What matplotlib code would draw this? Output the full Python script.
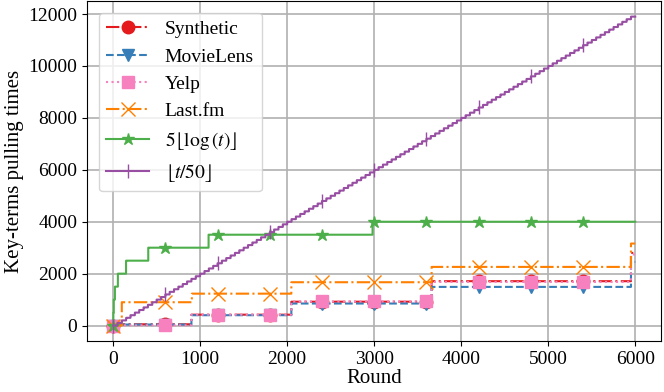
import numpy as np
import matplotlib
matplotlib.use("Agg")
import matplotlib.pyplot as plt

plt.rcParams['font.family'] = ['Liberation Serif', 'DejaVu Serif']
plt.rcParams['mathtext.fontset'] = 'stix'

# step series: round where a new level starts, and the level from there on
synth_t = [0, 1, 900, 2048, 3660, 5950]
synth_v = [0, 50, 420, 920, 1710, 2800]

movie_t = [0, 1, 900, 2048, 3660, 5950]
movie_v = [0, 40, 400, 850, 1490, 2450]

yelp_t = [0, 1, 900, 2048, 3660, 5950]
yelp_v = [0, 10, 420, 930, 1680, 2740]

lastfm_t = [0, 100, 905, 2048, 3660, 5950]
lastfm_v = [0, 900, 1230, 1670, 2260, 3160]

log_t = [0, 3, 8, 21, 55, 149, 404, 1097, 2981]
log_v = [0, 500, 1000, 1500, 2000, 2500, 3000, 3500, 4000]

# floor(t/50): one step of 100 every 50 rounds
lin_t = list(range(0, 6000, 50))
lin_v = list(range(0, 12000, 100))

n_rounds = 6000
rounds = np.arange(n_rounds)


def expand(bt, bv):
    idx = np.searchsorted(bt, rounds, side='right') - 1
    return np.asarray(bv)[idx]


series = [
    ("Synthetic", synth_t, synth_v, '#e41a1c', '-.', 'o', 9),
    ("MovieLens", movie_t, movie_v, '#377eb8', '--', 'v', 9),
    ("Yelp", yelp_t, yelp_v, '#f781bf', ':', 's', 9),
    ("Last.fm", lastfm_t, lastfm_v, '#ff7f00', '-.', 'x', 10),
    (r"$5\lfloor\log{(t)}\rfloor$", log_t, log_v, '#4daf4a', '-', '*', 9),
    (r"$\lfloor t/50\rfloor$", lin_t, lin_v, '#984ea3', '-', '|', 10),
]

fig, ax = plt.subplots(figsize=(6.64, 3.92), dpi=100)
for label, bt, bv, c, ls, m, ms in series:
    ax.plot(rounds, expand(bt, bv), drawstyle='steps-post', color=c, linestyle=ls,
            marker=m, markersize=ms, markevery=600, linewidth=1.5, label=label)

ax.grid(True, color='#b0b0b0', linewidth=1.2)
ax.set_xlabel("Round", fontsize=15, labelpad=1)
ax.set_ylabel("Key-terms pulling times", fontsize=15, labelpad=3)
ax.tick_params(labelsize=14)
ax.legend(loc='upper left', fontsize=14, handlelength=2.2, borderaxespad=0.6)

fig.subplots_adjust(left=0.131, right=0.996, bottom=0.13, top=0.997)
plt.savefig("out.png", dpi=100)
